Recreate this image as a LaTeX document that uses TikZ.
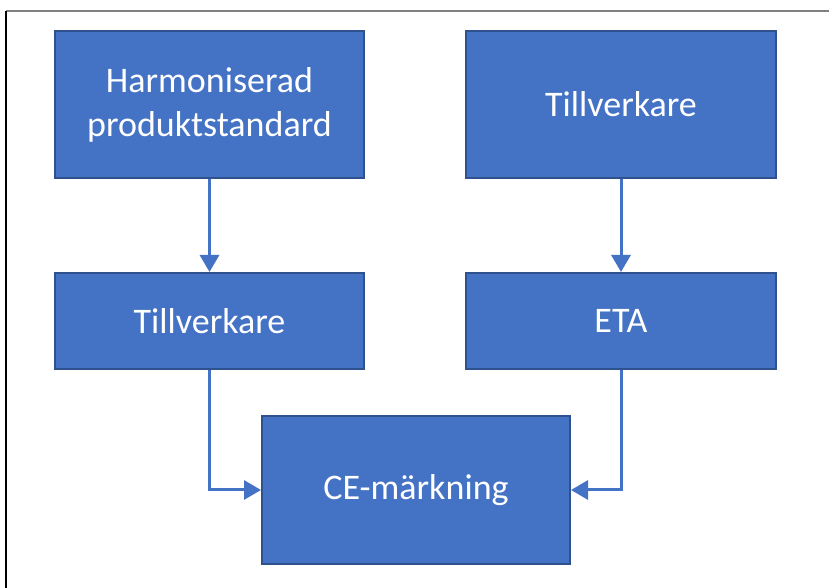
\documentclass[tikz,border=0pt]{standalone}
\usepackage{fontspec}
\setmainfont{Carlito}
\usetikzlibrary{arrows.meta}
\definecolor{boxfill}{HTML}{4472C4}
\definecolor{boxline}{HTML}{2F528F}
\begin{document}
\begin{tikzpicture}[x=1pt,y=1pt,
  flowbox/.style={draw=boxline,line width=2pt,fill=boxfill,text=white,
    font=\fontsize{36}{44}\selectfont,align=center,inner sep=0pt},
  flowarrow/.style={draw=boxfill,line width=3pt,
    -{Triangle[width=19pt,length=17pt]}}]
\useasboundingbox (0,0) rectangle (829,588);
\fill[white] (0,0) rectangle (829,588);
\coordinate (tl) at (6,577);
\coordinate (tr) at (829,577);
\coordinate (bl) at (6,0);
\draw[gray,line width=1.5pt] (tl) -- (tr);
\draw[black,line width=1.5pt] (tl) -- (bl);
\node[flowbox,minimum width=309pt,minimum height=147pt] (harm) at (209.5,483.5) {Harmoniserad\\produktstandard};
\node[flowbox,minimum width=310pt,minimum height=147pt] (tv1) at (621,483.5) {Tillverkare};
\node[flowbox,minimum width=309pt,minimum height=96pt] (tv2) at (209.5,267) {Tillverkare};
\node[flowbox,minimum width=310pt,minimum height=96pt] (eta) at (621,267) {ETA};
\node[flowbox,minimum width=308pt,minimum height=148pt] (ce) at (416,98) {CE-märkning};
\draw[flowarrow] (harm.south) -- (tv2.north);
\draw[flowarrow] (tv1.south) -- (eta.north);
\draw[flowarrow] (tv2.south) |- (ce.west);
\draw[flowarrow] (eta.south) |- (ce.east);
\end{tikzpicture}
\end{document}
